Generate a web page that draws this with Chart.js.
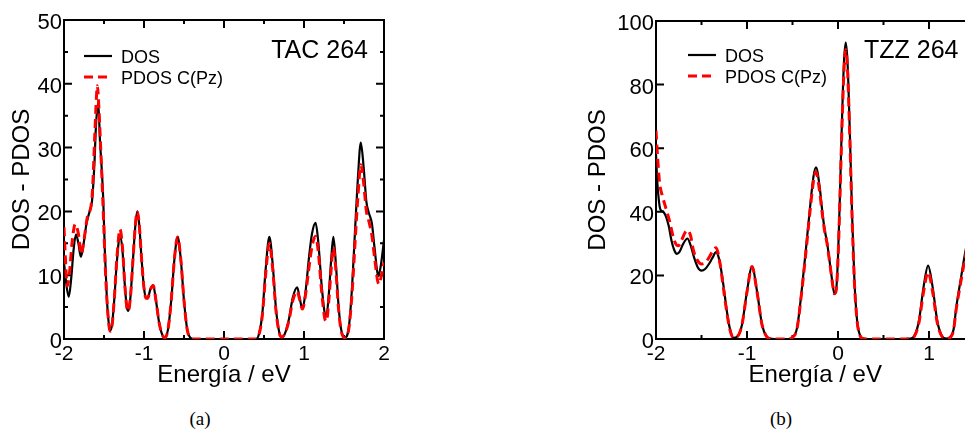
<!DOCTYPE html>
<html>
<head>
<meta charset="utf-8">
<script src="https://cdn.jsdelivr.net/npm/chart.js@4.4.0/dist/chart.umd.min.js"></script>
<style>
  body { margin: 0; width: 965px; height: 430px; overflow: hidden; background: #fff; position: relative; }
  .panel { position: absolute; top: 0; }
  .cap { position: absolute; top: 407px; width: 60px; text-align: center; font: 19px "Liberation Serif", "DejaVu Serif", serif; color: #000; line-height: 24px; }
</style>
</head>
<body>
<div class="panel" style="left:0"><canvas id="chartTac" width="400" height="392"></canvas></div>
<div class="panel" style="left:576px"><canvas id="chartTzz" width="410" height="392"></canvas></div>
<div class="cap" style="left:170px">(a)</div>
<div class="cap" style="left:751px">(b)</div>

<script>
// ---- data ----
const seriesNames = ['DOS', 'PDOS C(Pz)'];
const panelTags = ['TAC 264', 'TZZ 264'];
const xTitle = 'Energía / eV';
const yTitle = 'DOS - PDOS';

// (a) TAC 264
const tacDosX = [-2.00,-1.97,-1.94,-1.91,-1.88,-1.85,-1.82,-1.79,-1.76,-1.72,-1.68,-1.65,-1.62,-1.60,-1.572,-1.55,-1.53,-1.51,-1.49,-1.465,-1.445,-1.425,-1.40,-1.37,-1.34,-1.30,-1.27,-1.24,-1.215,-1.195,-1.17,-1.14,-1.11,-1.085,-1.06,-1.03,-1.00,-0.975,-0.955,-0.92,-0.885,-0.85,-0.81,-0.77,-0.74,-0.70,-0.66,-0.62,-0.58,-0.54,-0.50,-0.46,-0.42,-0.38,0.40,0.44,0.48,0.52,0.567,0.61,0.65,0.69,0.72,0.76,0.81,0.86,0.915,0.945,0.98,1.02,1.06,1.10,1.145,1.18,1.22,1.26,1.28,1.31,1.34,1.367,1.40,1.43,1.46,1.51,1.56,1.60,1.64,1.675,1.71,1.745,1.78,1.81,1.85,1.88,1.93,1.96,2.00];
const tacDosY = [12.0,8.5,6.6,9.5,14.0,16.4,15.0,12.9,14.5,18.0,20.0,21.6,27.4,33.5,37.1,31.0,27.0,22.0,14.0,6.5,3.0,1.3,2.2,6.5,12.0,16.2,14.0,8.5,5.0,4.4,6.5,12.0,17.5,20.0,18.0,12.5,8.0,6.4,6.4,7.8,8.4,6.0,2.5,0.6,0.2,1.5,6.0,12.5,16.0,12.5,6.0,1.5,0.2,0,0,0.9,4.1,10.8,16.0,11.5,4.7,1.1,0.3,0.8,3.0,6.5,8.1,6.5,4.7,7.5,12.5,16.5,18.2,15.0,8.5,4.0,3.6,7.0,12.5,16.0,11.5,5.5,1.8,0.2,1.8,8.0,17.5,25.5,30.8,27.0,21.5,19.8,18.0,14.5,9.9,11.5,15.5];
const tacPdosX = [-2.00,-1.98,-1.96,-1.93,-1.90,-1.86,-1.82,-1.785,-1.75,-1.71,-1.65,-1.613,-1.60,-1.583,-1.565,-1.545,-1.525,-1.505,-1.485,-1.46,-1.435,-1.42,-1.40,-1.37,-1.34,-1.30,-1.27,-1.24,-1.215,-1.195,-1.17,-1.14,-1.11,-1.085,-1.06,-1.03,-1.00,-0.975,-0.955,-0.92,-0.885,-0.85,-0.81,-0.77,-0.74,-0.70,-0.66,-0.62,-0.58,-0.54,-0.50,-0.46,-0.42,-0.38,0.40,0.44,0.48,0.52,0.567,0.61,0.65,0.69,0.72,0.76,0.81,0.86,0.915,0.945,0.98,1.02,1.06,1.10,1.145,1.18,1.22,1.26,1.28,1.31,1.34,1.367,1.40,1.43,1.46,1.51,1.56,1.60,1.64,1.675,1.71,1.745,1.78,1.81,1.85,1.88,1.935,1.96,2.00];
const tacPdosY = [17.5,12.0,8.3,10.5,15.0,18.0,16.5,13.3,15.5,19.0,22.2,32.6,36.5,39.7,36.5,31.0,25.0,18.5,11.5,5.5,1.8,1.2,2.0,6.5,12.5,17.2,14.5,8.5,5.0,4.4,6.5,12.0,17.5,20.0,18.0,12.5,8.0,6.4,6.4,7.8,8.4,6.0,2.5,0.6,0.2,1.5,6.0,12.5,16.0,12.5,6.0,1.5,0.2,0,0,0.8,3.8,10.0,15.0,10.8,4.4,1.0,0.3,0.8,2.8,6.0,7.5,6.2,4.7,7.0,11.0,14.5,16.1,13.5,7.5,3.2,2.8,6.0,11.0,14.3,10.5,5.0,1.6,0.2,1.6,7.0,15.5,22.5,27.3,24.5,20.0,18.5,16.1,13.0,8.6,9.5,12.0];

// (b) TZZ 264
const tzzDosX = [-2.00,-1.985,-1.97,-1.955,-1.94,-1.92,-1.89,-1.86,-1.83,-1.80,-1.77,-1.74,-1.70,-1.655,-1.62,-1.58,-1.54,-1.50,-1.46,-1.42,-1.38,-1.34,-1.31,-1.28,-1.25,-1.22,-1.19,-1.15,-1.105,-1.055,-1.00,-0.945,-0.89,-0.835,-0.785,-0.745,-0.70,-0.55,-0.50,-0.45,-0.40,-0.35,-0.31,-0.27,-0.242,-0.20,-0.18,-0.15,-0.12,-0.09,-0.06,-0.04,-0.02,0.00,0.02,0.04,0.065,0.085,0.105,0.13,0.155,0.18,0.21,0.24,0.28,0.32,0.74,0.79,0.84,0.89,0.94,0.99,1.04,1.09,1.14,1.19,1.24,1.27,1.30,1.35,1.40,1.45,1.50];
const tzzDosY = [58,49,44,41,40.3,40.0,38.5,35.5,31.0,28.0,26.8,27.5,30.0,31.6,29.5,25.5,22.5,21.5,22.0,23.5,25.5,27.3,25.5,21.0,15.0,8.5,3.5,0.4,0.8,4.5,15.0,22.8,15.0,4.5,0.8,0.1,0,0,0.5,3.5,15.0,29.0,40.6,51.0,54.0,47.5,42.0,35.0,30.3,24.0,17.5,14.3,15.5,25.8,44.0,65.0,86.8,93.2,86.8,65.0,39.0,18.7,5.8,1.3,0.1,0,0,0.1,1.0,5.8,16.3,23.1,16.3,5.8,1.0,0.1,0.8,3.0,10.0,19.0,27.5,34.0,38.0];
const tzzPdosX = [-2.00,-1.98,-1.96,-1.93,-1.89,-1.85,-1.81,-1.78,-1.755,-1.72,-1.68,-1.652,-1.62,-1.59,-1.55,-1.50,-1.46,-1.42,-1.38,-1.34,-1.31,-1.28,-1.25,-1.22,-1.19,-1.15,-1.105,-1.055,-1.00,-0.945,-0.89,-0.835,-0.785,-0.745,-0.70,-0.55,-0.50,-0.45,-0.40,-0.35,-0.31,-0.27,-0.242,-0.20,-0.18,-0.15,-0.12,-0.09,-0.06,-0.04,-0.02,0.00,0.02,0.04,0.065,0.085,0.105,0.13,0.155,0.18,0.21,0.24,0.28,0.32,0.74,0.79,0.84,0.89,0.94,0.99,1.04,1.09,1.14,1.19,1.24,1.27,1.30,1.35,1.40,1.45,1.50];
const tzzPdosY = [65.5,56,49,45,41,37,32,29.8,29.3,31,33.5,34.2,32.5,28,25,23.6,24.0,25.5,27.5,28.7,26.0,20.5,14.0,8.0,3.2,0.4,0.8,4.5,14.8,22.8,14.8,4.5,0.8,0.1,0,0,0.5,3.3,14.5,28,39.5,49.5,52.5,46,41,34.5,30,23.8,17.3,14.2,15.3,25,43,63,84,91,84.5,63,38,18,5.6,1.2,0.1,0,0,0.1,0.9,5.2,14.8,21.0,14.8,5.2,0.9,0.1,0.7,2.8,9.5,18,26,32.5,36.5];

// ticks
const xTicksTac = [-2, -1, 0, 1, 2];
const xMinorTac = [-1.5, -0.5, 0.5, 1.5];
const yTicksTac = [0, 10, 20, 30, 40, 50];
const yMinorTac = [5, 15, 25, 35, 45];
const xTicksTzz = [-2, -1, 0, 1];
const xMinorTzz = [-1.5, -0.5, 0.5, 1.5];
const yTicksTzz = [0, 20, 40, 60, 80, 100];
const yMinorTzz = [];

Chart.defaults.font.family = '"Liberation Sans", Arial, Helvetica, sans-serif';
Chart.defaults.color = '#000';

const pts = (xs, ys) => xs.map((x, i) => ({ x: x, y: ys[i] }));

// box around the plot with inward ticks on all four sides
const framePlugin = {
  id: 'frame',
  beforeDatasetsDraw(chart, args, opts) {
    const { ctx, chartArea: a } = chart;
    const sx = chart.scales.x, sy = chart.scales.y;
    ctx.save();
    ctx.strokeStyle = '#000';
    ctx.lineWidth = 2;
    ctx.strokeRect(a.left, a.top, a.right - a.left, a.bottom - a.top);
    ctx.beginPath();
    const tx = (v, len) => {
      const p = sx.getPixelForValue(v);
      ctx.moveTo(p, a.bottom); ctx.lineTo(p, a.bottom - len);
      ctx.moveTo(p, a.top); ctx.lineTo(p, a.top + len);
    };
    const ty = (v, len) => {
      const p = sy.getPixelForValue(v);
      ctx.moveTo(a.left, p); ctx.lineTo(a.left + len, p);
      ctx.moveTo(a.right, p); ctx.lineTo(a.right - len, p);
    };
    opts.xMajor.forEach(v => tx(v, 8));
    opts.xMinor.forEach(v => tx(v, 4));
    opts.yMajor.forEach(v => ty(v, 8));
    opts.yMinor.forEach(v => ty(v, 4));
    ctx.stroke();
    ctx.restore();
  }
};

// legend inside the plot + the panel tag
const keyPlugin = {
  id: 'key',
  afterDraw(chart, args, opts) {
    const { ctx, chartArea: a } = chart;
    ctx.save();
    chart.data.datasets.forEach((ds, i) => {
      const y = a.top + opts.top + i * 21;
      const x0 = a.left + opts.left;
      ctx.strokeStyle = ds.borderColor;
      ctx.lineWidth = ds.borderWidth;
      ctx.setLineDash(ds.borderDash || []);
      ctx.beginPath();
      ctx.moveTo(x0, y);
      ctx.lineTo(x0 + 28, y);
      ctx.stroke();
      ctx.setLineDash([]);
      ctx.fillStyle = '#000';
      ctx.font = '18px "Liberation Sans", Arial, sans-serif';
      ctx.textAlign = 'left';
      ctx.textBaseline = 'alphabetic';
      ctx.fillText(ds.label, x0 + 37, y + 7);
    });
    ctx.font = '25px "Liberation Sans", Arial, sans-serif';
    ctx.textAlign = 'right';
    ctx.fillText(opts.tag, a.right - 16, 58);
    ctx.restore();
  }
};

function makeChart(id, cfg) {
  return new Chart(document.getElementById(id), {
    type: 'line',
    data: {
      datasets: [
        { label: seriesNames[0], data: pts(cfg.dosX, cfg.dosY), borderColor: '#000', borderWidth: 2.2, order: 2 },
        { label: seriesNames[1], data: pts(cfg.pdosX, cfg.pdosY), borderColor: '#ff0000', borderWidth: 3, borderDash: [9, 5], order: 1 }
      ]
    },
    options: {
      responsive: false,
      animation: false,
      devicePixelRatio: 1,
      layout: { padding: { top: cfg.top, right: cfg.right, left: 0, bottom: 0 } },
      elements: {
        point: { radius: 0 },
        line: { cubicInterpolationMode: 'monotone', fill: false }
      },
      plugins: {
        legend: { display: false },
        tooltip: { enabled: false },
        frame: { xMajor: cfg.xTicks, xMinor: cfg.xMinor, yMajor: cfg.yTicks, yMinor: cfg.yMinor },
        key: { left: cfg.keyLeft, top: cfg.keyTop, tag: cfg.tag }
      },
      scales: {
        x: {
          type: 'linear', min: cfg.xMin, max: cfg.xMax,
          grid: { display: false, drawTicks: false },
          border: { display: false },
          afterBuildTicks: s => { s.ticks = cfg.xTicks.map(v => ({ value: v })); },
          afterFit: s => { s.height = cfg.h - 339; },
          ticks: { font: { size: 21 }, color: '#000', padding: 3, maxRotation: 0, autoSkip: false, callback: v => String(v) },
          title: { display: true, text: xTitle, font: { size: 24 }, color: '#000', padding: { top: 0, bottom: 2 } }
        },
        y: {
          type: 'linear', min: 0, max: cfg.yMax,
          grid: { display: false, drawTicks: false },
          border: { display: false },
          afterBuildTicks: s => { s.ticks = cfg.yTicks.map(v => ({ value: v })); },
          afterFit: s => { s.width = cfg.yw; },
          ticks: { font: { size: 22 }, color: '#000', padding: 2, labelOffset: 3, callback: v => String(v) },
          title: { display: true, text: yTitle, font: { size: 24 }, color: '#000', padding: { top: 7.5, bottom: 0 } }
        }
      }
    },
    plugins: [framePlugin, keyPlugin]
  });
}

makeChart('chartTac', {
  dosX: tacDosX, dosY: tacDosY, pdosX: tacPdosX, pdosY: tacPdosY,
  xMin: -2, xMax: 2, yMax: 50,
  xTicks: xTicksTac, xMinor: xMinorTac, yTicks: yTicksTac, yMinor: yMinorTac,
  top: 20, right: 16, yw: 64, h: 392,
  keyLeft: 20, keyTop: 36, tag: panelTags[0]
});

makeChart('chartTzz', {
  dosX: tzzDosX, dosY: tzzDosY, pdosX: tzzPdosX, pdosY: tzzPdosY,
  xMin: -2, xMax: 1.5, yMax: 100,
  xTicks: xTicksTzz, xMinor: xMinorTzz, yTicks: yTicksTzz, yMinor: yMinorTzz,
  top: 21, right: 11.5, yw: 80, h: 392,
  keyLeft: 32, keyTop: 34, tag: panelTags[1]
});
</script>
</body>
</html>
